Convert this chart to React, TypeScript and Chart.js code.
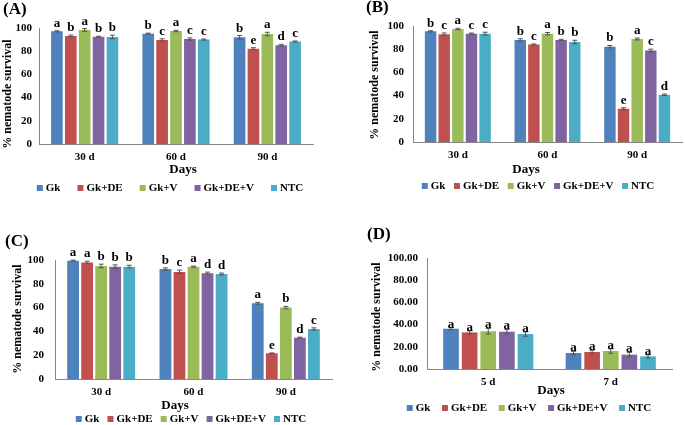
import React, { useEffect, useRef } from 'react';
import { Chart, registerables } from 'chart.js';

Chart.register(...registerables);

const FAMILY = '"Liberation Serif", "Times New Roman", serif';

const SERIES = ['Gk', 'Gk+DE', 'Gk+V', 'Gk+DE+V', 'NTC'];
const COLORS = ['#4F81BD', '#C0504D', '#9BBB59', '#8064A2', '#4BACC6'];
const DAYS_ABC = ['30 d', '60 d', '90 d'];
const DAYS_D = ['5 d', '7 d'];

// Panel A
const A_GK = [97.1, 95.1, 92.0];
const A_GK_DE = [93.1, 89.7, 82.2];
const A_GK_V = [98.3, 97.4, 94.8];
const A_GK_DE_V = [92.5, 90.5, 85.1];
const A_NTC = [92.3, 90.0, 88.3];
const A_ERR = [[0.5, 0.5, 1.5], [0.8, 1.0, 0.8], [1.2, 0.6, 1.5], [0.4, 1.0, 0.8], [1.5, 0.5, 0.5]];
const A_LETTERS = [['a', 'b', 'b'], ['b', 'c', 'e'], ['a', 'a', 'a'], ['b', 'c', 'd'], ['b', 'c', 'c']];

// Panel B
const B_GK = [95.4, 88.0, 82.2];
const B_GK_DE = [92.8, 84.0, 28.7];
const B_GK_V = [97.4, 93.4, 88.8];
const B_GK_DE_V = [93.4, 88.0, 78.8];
const B_NTC = [93.4, 86.2, 40.7];
const B_ERR = [[0.5, 1.0, 1.0], [1.2, 0.5, 0.8], [0.6, 1.0, 0.8], [0.5, 0.5, 1.2], [1.2, 1.5, 0.6]];
const B_LETTERS = [['b', 'b', 'b'], ['c', 'c', 'e'], ['a', 'a', 'a'], ['c', 'b', 'c'], ['c', 'b', 'd']];

// Panel C
const C_GK = [99.4, 92.4, 63.6];
const C_GK_DE = [98.0, 90.0, 21.6];
const C_GK_V = [95.0, 94.4, 60.0];
const C_GK_DE_V = [94.4, 88.8, 34.7];
const C_NTC = [94.4, 88.2, 42.0];
const C_ERR = [[0.5, 1.0, 0.8], [1.0, 1.5, 0.3], [1.5, 0.5, 1.0], [1.5, 1.0, 0.5], [1.2, 0.8, 1.0]];
const C_LETTERS = [['a', 'b', 'a'], ['a', 'c', 'e'], ['b', 'a', 'b'], ['b', 'd', 'd'], ['b', 'd', 'c']];

// Panel D
const D_GK = [36.3, 14.4];
const D_GK_DE = [33.0, 15.3];
const D_GK_V = [34.0, 16.2];
const D_GK_DE_V = [33.6, 12.9];
const D_NTC = [31.5, 11.4];
const D_ERR = [[1.0, 1.5], [1.5, 1.5], [2.5, 2.0], [2.0, 2.0], [2.0, 1.5]];
const D_LETTERS = [['a', 'a'], ['a', 'a'], ['a', 'a'], ['a', 'a'], ['a', 'a']];

type PanelCfg = {
  left: number; top: number; w: number; h: number;
  area: { left: number; top: number; right: number; bottom: number };
  labels: string[];
  values: number[][];
  errors: number[][];
  letters: string[][];
  decimals: number;
  yPad: number;
  letterGap: number;
  text: {
    label: string; labelX: number; labelY: number;
    yTitleX: number; yTitleY: number;
    xTitleX: number; xTitleY: number;
    legendCX: number; legendY: number; legendGap: number;
  };
};

const PANELS: PanelCfg[] = [
  {
    left: 0, top: 0, w: 340, h: 200,
    area: { left: 39, top: 28, right: 313, bottom: 144 },
    labels: DAYS_ABC,
    values: [A_GK, A_GK_DE, A_GK_V, A_GK_DE_V, A_NTC],
    errors: A_ERR, letters: A_LETTERS, decimals: 0, yPad: 7, letterGap: 4,
    text: { label: '(A)', labelX: 3, labelY: 10, yTitleX: 8, yTitleY: 94, xTitleX: 183, xTitleY: 170, legendCX: 170, legendY: 188, legendGap: 17 },
  },
  {
    left: 340, top: 0, w: 345, h: 200,
    area: { left: 73, top: 26, right: 342, bottom: 142 },
    labels: DAYS_ABC,
    values: [B_GK, B_GK_DE, B_GK_V, B_GK_DE_V, B_NTC],
    errors: B_ERR, letters: B_LETTERS, decimals: 0, yPad: 9, letterGap: 4,
    text: { label: '(B)', labelX: 26, labelY: 8, yTitleX: 35, yTitleY: 85, xTitleX: 186, xTitleY: 170, legendCX: 198, legendY: 186, legendGap: 8.5 },
  },
  {
    left: 0, top: 210, w: 340, h: 215,
    area: { left: 55, top: 50, right: 332, bottom: 169 },
    labels: DAYS_ABC,
    values: [C_GK, C_GK_DE, C_GK_V, C_GK_DE_V, C_NTC],
    errors: C_ERR, letters: C_LETTERS, decimals: 0, yPad: 11, letterGap: 4,
    text: { label: '(C)', labelX: 5, labelY: 32, yTitleX: 18, yTitleY: 109, xTitleX: 175, xTitleY: 196, legendCX: 191, legendY: 209, legendGap: 8 },
  },
  {
    left: 340, top: 210, w: 345, h: 215,
    area: { left: 87, top: 48, right: 332, bottom: 159 },
    labels: DAYS_D,
    values: [D_GK, D_GK_DE, D_GK_V, D_GK_DE_V, D_NTC],
    errors: D_ERR, letters: D_LETTERS, decimals: 2, yPad: 9, letterGap: 0,
    text: { label: '(D)', labelX: 27, labelY: 25, yTitleX: 37, yTitleY: 107, xTitleX: 211, xTitleY: 181, legendCX: 189, legendY: 198, legendGap: 11.5 },
  },
];

const errorLetterPlugin = {
  id: 'errLetters',
  afterDatasetsDraw(chart: any, _args: any, opts: any) {
    const ctx = chart.ctx;
    const yScale = chart.scales.y;
    ctx.save();
    chart.data.datasets.forEach((ds: any, di: number) => {
      const meta = chart.getDatasetMeta(di);
      meta.data.forEach((bar: any, i: number) => {
        const v = ds.data[i];
        const e = opts.errors[di][i];
        const x = bar.x;
        const yT = yScale.getPixelForValue(v + e);
        const yB = yScale.getPixelForValue(v - e);
        ctx.strokeStyle = '#555';
        ctx.lineWidth = 1;
        ctx.beginPath();
        ctx.moveTo(x, yT); ctx.lineTo(x, yB);
        ctx.moveTo(x - 2.5, yT); ctx.lineTo(x + 2.5, yT);
        ctx.moveTo(x - 2.5, yB); ctx.lineTo(x + 2.5, yB);
        ctx.stroke();
        ctx.fillStyle = '#000';
        ctx.font = `bold 13px ${FAMILY}`;
        ctx.textAlign = 'center';
        ctx.textBaseline = 'alphabetic';
        ctx.fillText(opts.letters[di][i], x, yT - opts.gap);
      });
    });
    ctx.restore();
  },
};

const panelTextPlugin = {
  id: 'panelText',
  afterDraw(chart: any, _args: any, o: any) {
    const ctx = chart.ctx;
    ctx.save();
    ctx.fillStyle = '#000';
    ctx.font = `bold 17px ${FAMILY}`;
    ctx.textAlign = 'left';
    ctx.textBaseline = 'middle';
    ctx.fillText(o.label, o.labelX, o.labelY);

    ctx.save();
    ctx.translate(o.yTitleX, o.yTitleY);
    ctx.rotate(-Math.PI / 2);
    ctx.font = `bold 12px ${FAMILY}`;
    ctx.textAlign = 'center';
    ctx.fillText('% nematode survival', 0, 0);
    ctx.restore();

    ctx.font = `bold 13px ${FAMILY}`;
    ctx.textAlign = 'center';
    ctx.fillText('Days', o.xTitleX, o.xTitleY);

    ctx.font = `bold 11px ${FAMILY}`;
    ctx.textAlign = 'left';
    const widths = SERIES.map((s) => ctx.measureText(s).width);
    const total = widths.reduce((a, w) => a + w + 9, 0) + o.legendGap * (SERIES.length - 1);
    let x = o.legendCX - total / 2;
    SERIES.forEach((s, i) => {
      ctx.fillStyle = COLORS[i];
      ctx.fillRect(x, o.legendY - 3, 6, 6);
      ctx.fillStyle = '#000';
      ctx.fillText(s, x + 9, o.legendY + 0.5);
      x += 9 + widths[i] + o.legendGap;
    });
    ctx.restore();
  },
};

function Panel({ cfg }: { cfg: PanelCfg }) {
  const ref = useRef<HTMLCanvasElement | null>(null);
  useEffect(() => {
    if (!ref.current) return;
    const { area, w, h } = cfg;
    const chart = new Chart(ref.current, {
      type: 'bar',
      data: {
        labels: cfg.labels,
        datasets: SERIES.map((s, i) => ({
          label: s,
          data: cfg.values[i],
          backgroundColor: COLORS[i],
          borderWidth: 0,
          categoryPercentage: 0.76,
          barPercentage: 0.84,
        })),
      },
      options: {
        responsive: false,
        animation: false,
        devicePixelRatio: 1,
        layout: { padding: { left: 0, top: area.top, right: w - area.right, bottom: 0 } },
        plugins: {
          legend: { display: false },
          tooltip: { enabled: false },
          title: { display: false },
          errLetters: { errors: cfg.errors, letters: cfg.letters, gap: cfg.letterGap },
          panelText: cfg.text,
        } as any,
        scales: {
          x: {
            grid: { display: false, drawTicks: false },
            border: { display: true, color: '#868686', width: 1 },
            ticks: { color: '#000', font: { family: FAMILY, size: 11, weight: 'bold' }, padding: 7, maxRotation: 0 },
            afterFit: (scale: any) => { scale.height = h - area.bottom; },
          },
          y: {
            min: 0,
            max: 100,
            grid: { display: false, drawTicks: false },
            border: { display: true, color: '#868686', width: 1 },
            ticks: {
              stepSize: 20,
              color: '#000',
              padding: cfg.yPad,
              font: { family: FAMILY, size: 11, weight: 'bold' },
              callback: (v: any) => Number(v).toFixed(cfg.decimals),
            },
            afterFit: (scale: any) => { scale.width = area.left; },
          },
        },
      },
      plugins: [errorLetterPlugin, panelTextPlugin],
    });
    return () => chart.destroy();
  }, [cfg]);
  return (
    <canvas
      ref={ref}
      width={cfg.w}
      height={cfg.h}
      style={{ position: 'absolute', left: cfg.left, top: cfg.top, width: cfg.w, height: cfg.h }}
    />
  );
}

export default function App() {
  return (
    <div style={{ position: 'absolute', left: 0, top: 0, width: 685, height: 425, background: '#fff', overflow: 'hidden' }}>
      {PANELS.map((p, i) => (
        <Panel key={i} cfg={p} />
      ))}
    </div>
  );
}
